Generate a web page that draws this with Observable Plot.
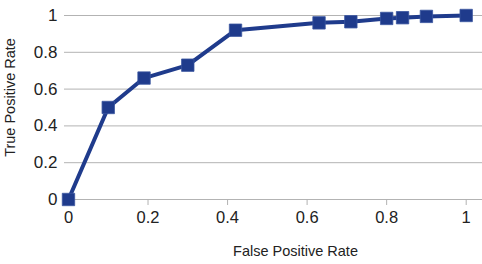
<!DOCTYPE html>
<html>
<head>
<meta charset="utf-8">
<script src="https://cdn.jsdelivr.net/npm/d3@7"></script>
<script src="https://cdn.jsdelivr.net/npm/@observablehq/plot@0.6"></script>
<style>
  html, body { margin: 0; padding: 0; background: #fff; }
  svg { display: block; }
</style>
</head>
<body>
<div id="chart"></div>
<script>
const fpr = [0, 0.1, 0.19, 0.3, 0.42, 0.63, 0.71, 0.8, 0.84, 0.9, 1];
const tpr = [0, 0.5, 0.66, 0.73, 0.92, 0.96, 0.966, 0.984, 0.988, 0.995, 1];
const tickValues = [0, 0.2, 0.4, 0.6, 0.8, 1];
const tickLabels = ["0", "0.2", "0.4", "0.6", "0.8", "1"];
const xTitle = "False Positive Rate";
const yTitle = "True Positive Rate";

const data = fpr.map((x, i) => ({x, y: tpr[i]}));
const color = "#1f3b8c";
const grid = "#b3b3b3";
const font = "'Liberation Sans', Arial, sans-serif";
const fmt = v => tickLabels[tickValues.indexOf(v)];

const chart = Plot.plot({
  width: 482,
  height: 264,
  marginLeft: 64,
  marginRight: 0,
  marginTop: 15,
  marginBottom: 65,
  style: {fontFamily: font, background: "#fff"},
  x: {domain: [-0.01, 1.041], ticks: tickValues},
  y: {domain: [0, 1], ticks: tickValues},
  marks: [
    Plot.gridY(tickValues, {stroke: grid, strokeOpacity: 1, strokeWidth: 1}),
    Plot.axisY(tickValues, {tickSize: 0, tickPadding: 7, fontSize: 17, fill: "#222", label: null, tickFormat: fmt}),
    Plot.axisX(tickValues, {tickSize: 6, tickPadding: 6, fontSize: 16.5, fill: "#222", stroke: grid, label: null, tickFormat: fmt}),
    Plot.line(data, {x: "x", y: "y", stroke: color, strokeWidth: 4, strokeLinejoin: "miter"}),
    Plot.dot(data, {x: "x", y: "y", symbol: "square", r: 7, fill: color, stroke: "#3a55a0", strokeWidth: 0.8}),
    Plot.text([xTitle], {frameAnchor: "bottom", textAnchor: "middle", lineAnchor: "middle", dx: 22, dy: 52, fontSize: 14.5, fill: "#222", text: d => d}),
    Plot.text([yTitle], {frameAnchor: "left", textAnchor: "middle", lineAnchor: "middle", rotate: -90, dx: -54, dy: -10, fontSize: 14.5, fill: "#222", text: d => d})
  ]
});
document.getElementById("chart").appendChild(chart);
</script>
</body>
</html>
